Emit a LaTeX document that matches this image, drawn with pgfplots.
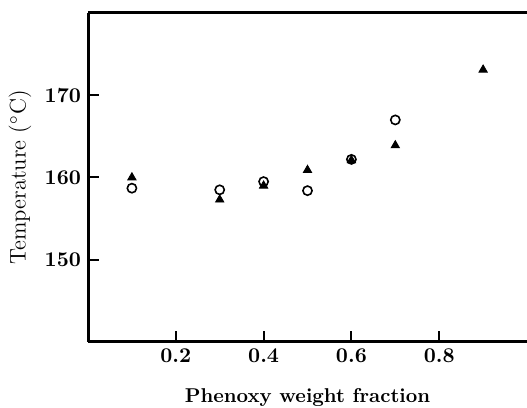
\documentclass[border=0pt]{standalone}
\usepackage{pgfplots}
\pgfplotsset{compat=1.18}
\usetikzlibrary{calc}
\begin{document}
\begin{tikzpicture}
\begin{axis}[name=ax, scale only axis, width=219.5pt, height=164.5pt,
  xmin=0, xmax=1, ymin=140, ymax=180,
  axis x line=box, axis y line=left,
  axis line style={-, line width=1.5pt},
  xtick pos=left, ytick pos=left,
  xtick={0.2,0.4,0.6,0.8}, ytick={150,160,170},
  tick align=inside, major tick length=5.5pt,
  tick style={line width=1pt, black},
  /pgf/number format/assume math mode=true,
  /pgf/number format/fixed, /pgf/number format/precision=1,
  ticklabel style={font=\fontsize{10.5}{12}\selectfont\bfseries},
  every axis x label/.style={at={(axis description cs:0.5,-0.1854)}, anchor=base},
  every axis y label/.style={at={(axis description cs:-0.155,0.5)}, rotate=90, anchor=center},
  xlabel={\bfseries Phenoxy weight fraction},
  ylabel={\fontsize{11.3}{13}\selectfont Temperature ($^\circ$C)},
  clip=false]
\addplot[only marks, mark=o, mark size=2.3pt, mark options={line width=0.8pt, black}] coordinates {
  (0.1,158.7) (0.3,158.5) (0.4,159.5) (0.5,158.4) (0.6,162.2) (0.7,167.0)};
\addplot[only marks, mark=triangle*, mark size=2.4pt, mark options={black, fill=black}] coordinates {
  (0.1,160.0) (0.3,157.3) (0.4,159.0) (0.5,160.9) (0.6,162.1) (0.7,163.9) (0.9,173.1)};
\end{axis}
\pgfresetboundingbox
\path[use as bounding box] ($(ax.south west)+(-44pt,-33pt)$) rectangle ($(ax.north east)+(0,6.5pt)$);
\end{tikzpicture}
\end{document}
